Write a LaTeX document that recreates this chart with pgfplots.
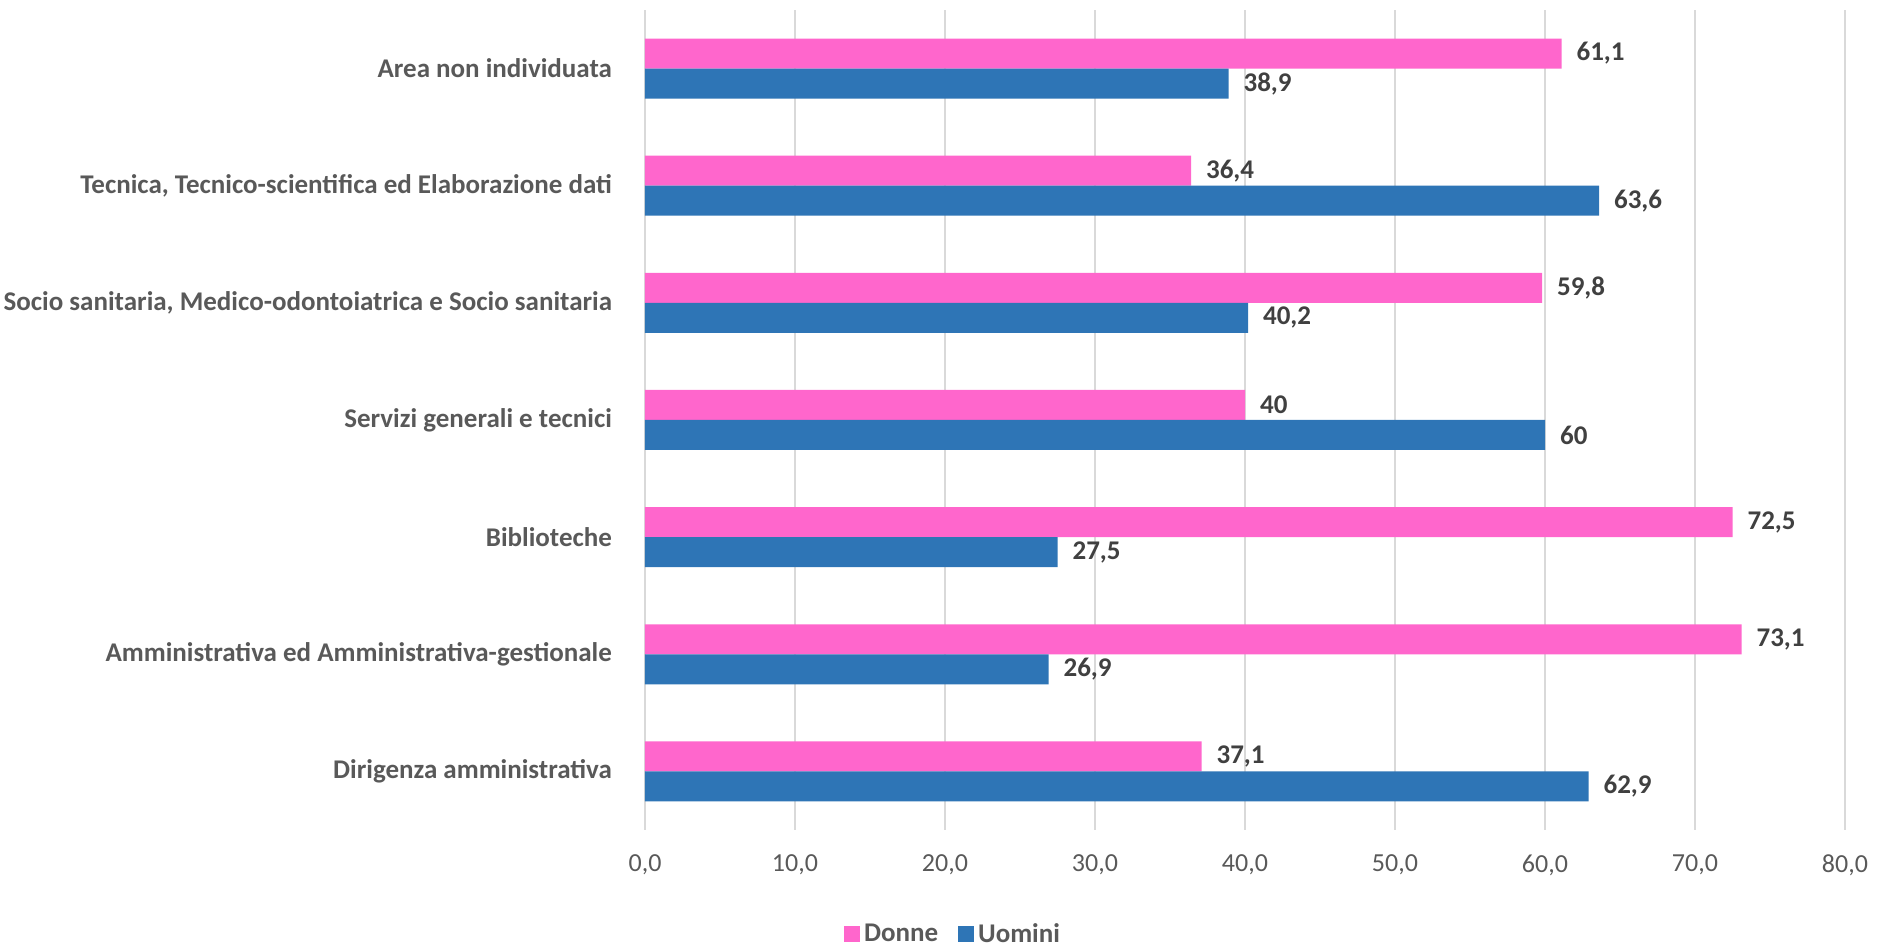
\documentclass[border=0pt]{standalone}
\usepackage{pgfplots}
\pgfplotsset{compat=1.18}
\usepackage{fontspec}
\setmainfont{Carlito}
\definecolor{pinkbar}{HTML}{FF66CC}
\definecolor{bluebar}{HTML}{2E75B6}
\definecolor{gridc}{HTML}{D9D9D9}
\definecolor{labc}{HTML}{595959}
\definecolor{valc}{HTML}{404040}
\begin{document}
\begin{tikzpicture}
\useasboundingbox (0,0) rectangle (940.5pt,473pt);
\begin{axis}[
  at={(322.5pt,58pt)}, anchor=south west,
  scale only axis, width=600pt, height=410pt,
  xmin=0, xmax=80, ymin=-0.5, ymax=6.5,
  xtick={0,10,...,80},
  ytick={0,1,2,3,4,5,6},
  yticklabels={Dirigenza amministrativa, Amministrativa ed Amministrativa-gestionale, Biblioteche, Servizi generali e tecnici, {Socio sanitaria, Medico-odontoiatrica e Socio sanitaria}, {Tecnica, Tecnico-scientifica ed Elaborazione dati}, Area non individuata},
  xmajorgrids, major grid style={gridc, line width=0.75pt},
  axis line style={draw=none}, tick style={draw=none},
  major tick length=0pt,
  xticklabel style={font=\fontsize{13}{15}\selectfont, text=labc, yshift=-9pt},
  yticklabel style={font=\fontsize{13.5}{16}\selectfont\bfseries, text=labc, anchor=east, xshift=-13pt},
  /pgf/number format/assume math mode=true,
  xticklabel={\pgfmathprintnumber[fixed, fixed zerofill, precision=1, use comma]{\tick}},
  xbar, bar width=15pt,
  nodes near coords,
  nodes near coords style={font=\fontsize{13.5}{16}\selectfont\bfseries, text=valc, anchor=west, xshift=4pt, /pgf/number format/.cd, use comma, precision=1, assume math mode=true},
  legend style={at={(0.2575,-0.127)}, anchor=center, draw=none, legend columns=2, font=\fontsize{13.5}{16}\selectfont\bfseries, text=labc, /tikz/every even column/.append style={column sep=8pt}},
  legend image code/.code={\fill[#1] (0pt,-4pt) rectangle (8pt,4pt);},
]
\addplot[fill=pinkbar, draw=none, bar shift=7.5pt] coordinates {
 (37.1,0) (73.1,1) (72.5,2) (40,3) (59.8,4) (36.4,5) (61.1,6)};
\addplot[fill=bluebar, draw=none, bar shift=-7.5pt] coordinates {
 (62.9,0) (26.9,1) (27.5,2) (60,3) (40.2,4) (63.6,5) (38.9,6)};
\legend{Donne, Uomini}
\end{axis}
\end{tikzpicture}
\end{document}
